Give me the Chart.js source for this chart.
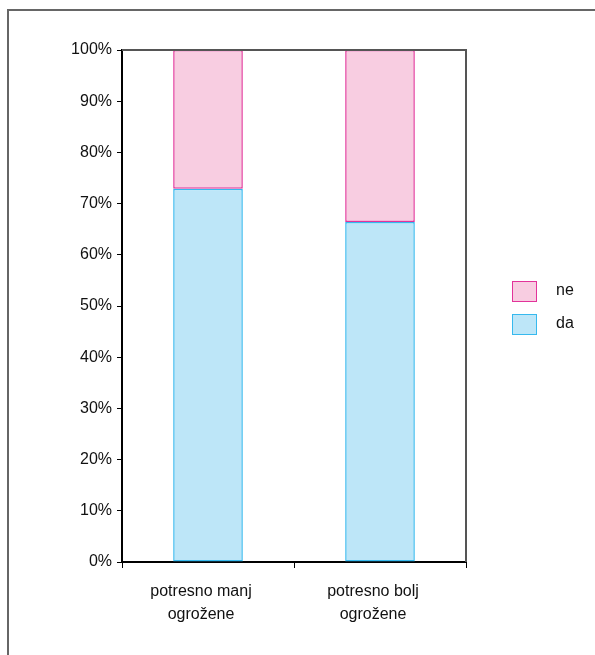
<!DOCTYPE html>
<html><head><meta charset="utf-8">
<script src="https://cdn.jsdelivr.net/npm/chart.js@4.4.1/dist/chart.umd.min.js"></script>
<style>
html,body{margin:0;padding:0;background:#fff;}
#wrap{position:relative;width:595px;height:655px;}
#legend{position:absolute;left:512px;top:281px;font-family:"Liberation Sans",Arial,sans-serif;font-size:16px;color:#111;}
.li{position:relative;height:33px;}
.box{position:absolute;left:0;top:0;width:23px;height:19px;border:1px solid;}
.lt{position:absolute;left:44px;top:0px;}
</style></head><body>
<div id="wrap"><canvas id="c" width="595" height="655"></canvas><div id="legend"></div></div>
<script>
const categories = [["potresno manj","ogrožene"],["potresno bolj","ogrožene"]];
const seriesNames = ["da","ne"];
const daValues = [72.9, 66.4];
const neValues = [27.1, 33.6];
const yTicks = [0,10,20,30,40,50,60,70,80,90,100];

const colors = {
  da: {fill:"#bde6f8", border:"#36b9ee"},
  ne: {fill:"#f8cde1", border:"#e2339a"}
};

const framePlugin = {
  id:'frame',
  beforeDraw(chart){
    const ctx = chart.ctx;
    ctx.save();
    ctx.fillStyle = '#fff';
    ctx.fillRect(0,0,chart.width,chart.height);
    ctx.strokeStyle = '#666';
    ctx.lineWidth = 2;
    ctx.beginPath();
    ctx.moveTo(8,655); ctx.lineTo(8,10); ctx.lineTo(595,10);
    ctx.stroke();
    ctx.restore();
  },
  afterDatasetsDraw(chart){
    const ctx = chart.ctx, a = chart.chartArea;
    ctx.save();
    ctx.strokeStyle = '#555';
    ctx.lineWidth = 2;
    ctx.beginPath();
    ctx.moveTo(a.left, a.top); ctx.lineTo(a.right, a.top); ctx.lineTo(a.right, a.bottom);
    ctx.stroke();
    ctx.restore();
  }
};

const chart = new Chart(document.getElementById('c'), {
  type:'bar',
  data:{
    labels: categories,
    datasets:[
      {label:seriesNames[0], data:daValues, backgroundColor:colors.da.fill, borderColor:colors.da.border, borderWidth:1.5, borderSkipped:false, barPercentage:0.81, categoryPercentage:0.5},
      {label:seriesNames[1], data:neValues, backgroundColor:colors.ne.fill, borderColor:colors.ne.border, borderWidth:1.5, borderSkipped:false, barPercentage:0.81, categoryPercentage:0.5}
    ]
  },
  options:{
    responsive:false,
    animation:false,
    layout:{padding:{left:0,right:129,top:50,bottom:0}},
    plugins:{legend:{display:false},tooltip:{enabled:false}},
    scales:{
      x:{
        stacked:true,
        grid:{display:true, drawOnChartArea:false, drawTicks:true, tickLength:6, color:'#000', offset:true},
        border:{display:true, color:'#000', width:2},
        ticks:{color:'#111', padding:12, labelOffset:-7, font:{family:'"Liberation Sans", Arial, sans-serif', size:16, lineHeight:1.45}, maxRotation:0},
        afterFit(s){ s.height = 93; }
      },
      y:{
        stacked:true, min:0, max:100,
        afterBuildTicks(s){ s.ticks = yTicks.map(v=>({value:v})); },
        grid:{display:true, drawOnChartArea:false, drawTicks:true, tickLength:5, color:'#000'},
        border:{display:true, color:'#000', width:2},
        ticks:{color:'#111', padding:5, font:{family:'"Liberation Sans", Arial, sans-serif', size:16}, callback:v=>v+'%'},
        afterFit(s){ s.width = 122; }
      }
    }
  },
  plugins:[framePlugin]
});

const leg = document.getElementById('legend');
[1,0].forEach(i=>{
  const ds = chart.data.datasets[i];
  const d = document.createElement('div'); d.className='li';
  d.innerHTML = '<div class="box" style="background:'+ds.backgroundColor+';border-color:'+ds.borderColor+'"></div><div class="lt">'+ds.label+'</div>';
  leg.appendChild(d);
});
</script>
</body></html>
